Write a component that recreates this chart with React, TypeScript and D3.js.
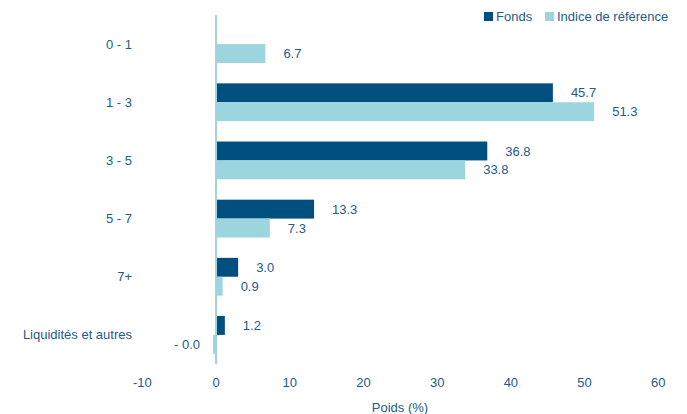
import React from "react";
import * as d3 from "d3";

const categories = ["0 - 1", "1 - 3", "3 - 5", "5 - 7", "7+", "Liquidités et autres"];
const fonds: (number | null)[] = [null, 45.7, 36.8, 13.3, 3.0, 1.2];
const indice: number[] = [6.7, 51.3, 33.8, 7.3, 0.9, -0.04];
const xTicks = [-10, 0, 10, 20, 30, 40, 50, 60];
const seriesNames = ["Fonds", "Indice de référence"];

const W = 687, H = 414;
const C_FONDS = "#00507f";
const C_IND = "#9dd5df";
const TXT = "#1d5b8c";
const FS = 13;

function fmt(v: number) {
  if (v < 0 && Math.abs(v) < 0.05) return "- 0.0";
  return v < 0 ? "- " + Math.abs(v).toFixed(1) : v.toFixed(1);
}

export default function App() {
  const x = d3.scaleLinear().domain([-10, 60]).range([142.3, 658.3]);
  const y = d3.scaleBand<string>().domain(categories).range([15, 364]).paddingInner(0.35).paddingOuter(0.175);
  const bw = y.bandwidth() / 2;
  const font = "'Liberation Sans', Arial, sans-serif";

  const bar = (v: number, yTop: number, color: string, key: string) => {
    const x0 = x(Math.min(0, v));
    let w = Math.abs(x(v) - x(0));
    let xs = x0;
    if (w < 3) { w = 3; xs = v < 0 ? x(0) - 3 : x(0); }
    const lx = v < 0 ? x(0) - 16 : x(v) + 18;
    return (
      <g key={key}>
        <rect x={xs} y={yTop} width={w} height={bw} fill={color} />
        <text x={lx} y={yTop + bw / 2} dy="0.35em" textAnchor={v < 0 ? "end" : "start"} fontSize={FS} fill={TXT}>{fmt(v)}</text>
      </g>
    );
  };

  return (
    <svg width={W} height={H} style={{ position: "absolute", left: 0, top: 0, fontFamily: font }}>
      <rect width={W} height={H} fill="#fff" />
      {categories.map((c, i) => {
        const yc = (y(c) as number);
        return (
          <g key={c}>
            <text x={132} y={yc + bw} dy="0.35em" textAnchor="end" fontSize={FS} fill={TXT}>{c}</text>
            {fonds[i] !== null && bar(fonds[i] as number, yc, C_FONDS, "f" + i)}
            {bar(indice[i], yc + bw, C_IND, "i" + i)}
          </g>
        );
      })}
      <line x1={x(0)} x2={x(0)} y1={15} y2={364} stroke={C_IND} strokeWidth={2} />
      {xTicks.map((t) => (
        <text key={t} x={x(t)} y={382} dy="0.35em" textAnchor="middle" fontSize={FS} fill={TXT}>{t}</text>
      ))}
      <text x={400} y={407} dy="0.35em" textAnchor="middle" fontSize={FS} fill={TXT}>Poids (%)</text>
      <g>
        <rect x={484} y={12} width={9} height={9} fill={C_FONDS} />
        <text x={496} y={16.5} dy="0.35em" fontSize={FS} fill={TXT}>{seriesNames[0]}</text>
        <rect x={545} y={12} width={9} height={9} fill={C_IND} />
        <text x={557} y={16.5} dy="0.35em" fontSize={FS} fill={TXT}>{seriesNames[1]}</text>
      </g>
    </svg>
  );
}
